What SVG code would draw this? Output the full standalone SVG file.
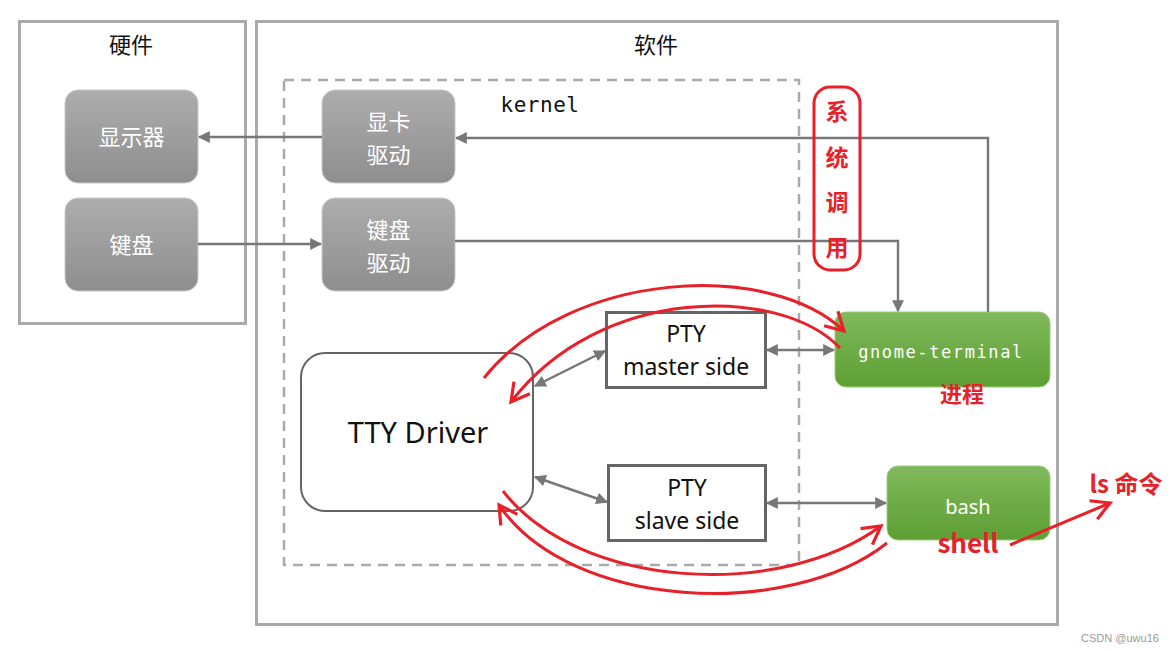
<svg xmlns="http://www.w3.org/2000/svg" width="1175" height="652" viewBox="0 0 1175 652">
<defs>
<linearGradient id="gGray" x1="0" y1="0" x2="0" y2="1"><stop offset="0" stop-color="#adadad"/><stop offset="1" stop-color="#8e8e8e"/></linearGradient>
<linearGradient id="gGreen" x1="0" y1="0" x2="0" y2="1"><stop offset="0" stop-color="#80b95c"/><stop offset="1" stop-color="#5d9f33"/></linearGradient>
<marker id="ah" viewBox="0 0 10 10" refX="9" refY="5" markerWidth="5" markerHeight="5" orient="auto-start-reverse" markerUnits="strokeWidth"><path d="M0,0 L10,5 L0,10 z" fill="#777"/></marker>
<marker id="rh" viewBox="0 0 12 12" refX="10" refY="6" markerWidth="8" markerHeight="8" orient="auto" markerUnits="strokeWidth"><path d="M1,1 L10,6 L1,11" fill="none" stroke="#e8202a" stroke-width="1.6"/></marker>
<style>
.frame{fill:#fff;stroke:#aaa;stroke-width:3}
.title{font-family:"Noto Sans CJK SC",sans-serif;font-size:22px;fill:#111;text-anchor:middle}
.gray{fill:url(#gGray);stroke:#c8c8c8;stroke-width:1}
.green{fill:url(#gGreen);stroke:#9ccc7d;stroke-width:1}
.wt{font-family:"Noto Sans CJK SC",sans-serif;font-size:22px;fill:#fff;text-anchor:middle}
.box{fill:#fff;stroke:#666;stroke-width:3}
.bt{font-family:"Noto Sans","Open Sans",sans-serif;fill:#111;text-anchor:middle}
.conn{fill:none;stroke:#777;stroke-width:2.4}
.red{fill:none;stroke:#e8202a;stroke-width:3}
.rt{font-family:"Noto Sans CJK SC",sans-serif;font-weight:bold;fill:#e8202a;text-anchor:middle}
</style>
</defs>
<rect width="1175" height="652" fill="#fff"/>
<g id="hardware">
<rect class="frame" x="19.5" y="21.5" width="226" height="302"/>
<text class="title" x="131" y="53">硬件</text>
</g>
<g id="software">
<rect class="frame" x="256.5" y="21.5" width="801" height="603"/>
<text class="title" x="656" y="53">软件</text>
</g>
<g id="kernel">
<rect x="284" y="80" width="515" height="485" fill="none" stroke="#aaa" stroke-width="2.5" stroke-dasharray="10,7"/>
<text x="540" y="112" font-family="DejaVu Sans Mono,monospace" font-size="21" fill="#111" text-anchor="middle" letter-spacing="0.5">kernel</text>
</g>
<g id="display">
<rect class="gray" x="65" y="90" width="133" height="93" rx="13"/>
<text class="wt" x="131.5" y="145">显示器</text>
</g>
<g id="keyboard">
<rect class="gray" x="65" y="198" width="133" height="93" rx="13"/>
<text class="wt" x="131.5" y="253">键盘</text>
</g>
<g id="gpu-driver">
<rect class="gray" x="322" y="90" width="133" height="93" rx="13"/>
<text class="wt" x="388.5" y="130">显卡</text>
<text class="wt" x="388.5" y="163">驱动</text>
</g>
<g id="kbd-driver">
<rect class="gray" x="322" y="198" width="133" height="93" rx="13"/>
<text class="wt" x="388.5" y="238">键盘</text>
<text class="wt" x="388.5" y="271">驱动</text>
</g>
<g id="tty">
<rect x="301" y="353" width="232" height="158" rx="24" fill="#fff" stroke="#666" stroke-width="2"/>
<text class="bt" x="418" y="443" font-size="29">TTY Driver</text>
</g>
<g id="pty-master">
<rect class="box" x="606.5" y="312.5" width="159" height="75"/>
<text class="bt" x="686" y="342" font-size="23">PTY</text>
<text class="bt" x="686" y="375" font-size="23">master side</text>
</g>
<g id="pty-slave">
<rect class="box" x="608.5" y="465.5" width="157" height="75"/>
<text class="bt" x="687" y="496" font-size="23">PTY</text>
<text class="bt" x="687" y="529" font-size="23">slave side</text>
</g>
<g id="gnome-terminal">
<rect class="green" x="835" y="312" width="215" height="75" rx="11"/>
<text x="941" y="358" font-family="DejaVu Sans Mono,monospace" font-size="17" letter-spacing="1.6" fill="#fff" text-anchor="middle">gnome-terminal</text>
</g>
<g id="bash">
<rect class="green" x="887" y="466" width="163" height="74" rx="11"/>
<text x="968" y="514" font-family="Noto Sans,sans-serif" font-size="20" fill="#fff" text-anchor="middle">bash</text>
</g>
<g id="connectors">
<path class="conn" d="M322,137 H199" marker-end="url(#ah)"/>
<path class="conn" d="M198,244 H321" marker-end="url(#ah)"/>
<path class="conn" d="M988,312 V138 H456" marker-end="url(#ah)"/>
<path class="conn" d="M455,241 H898 V311" marker-end="url(#ah)"/>
<path class="conn" d="M535,386 L605,351" marker-start="url(#ah)" marker-end="url(#ah)"/>
<path class="conn" d="M535,477 L607,502" marker-start="url(#ah)" marker-end="url(#ah)"/>
<path class="conn" d="M767,350 H834" marker-start="url(#ah)" marker-end="url(#ah)"/>
<path class="conn" d="M767,503 H886" marker-start="url(#ah)" marker-end="url(#ah)"/>
</g>
<g id="annotations">
<rect class="red" x="814" y="87" width="46" height="183" rx="16"/>
<text class="rt" x="837" y="120" font-size="23">系</text>
<text class="rt" x="837" y="166" font-size="23">统</text>
<text class="rt" x="837" y="211" font-size="23">调</text>
<text class="rt" x="837" y="256" font-size="23">用</text>
<text class="rt" x="962" y="402" font-size="22">进程</text>
<text class="rt" x="968" y="553" font-size="26">shell</text>
<text class="rt" x="1126" y="493" font-size="24">ls 命令</text>
<path class="red" d="M484,378 C570,270 770,260 844,331" marker-end="url(#rh)"/>
<path class="red" d="M840,348 C780,285 600,285 511,402" marker-end="url(#rh)"/>
<path class="red" d="M503,491 C580,590 780,600 881,526" marker-end="url(#rh)"/>
<path class="red" d="M887,543 C790,620 570,610 499,505" marker-end="url(#rh)"/>
<path class="red" d="M1010,545 L1110,503" marker-end="url(#rh)"/>
</g>
<text x="1120" y="642" font-family="Liberation Sans,sans-serif" font-size="11" fill="#999" text-anchor="middle">CSDN @uwu16</text>
</svg>
